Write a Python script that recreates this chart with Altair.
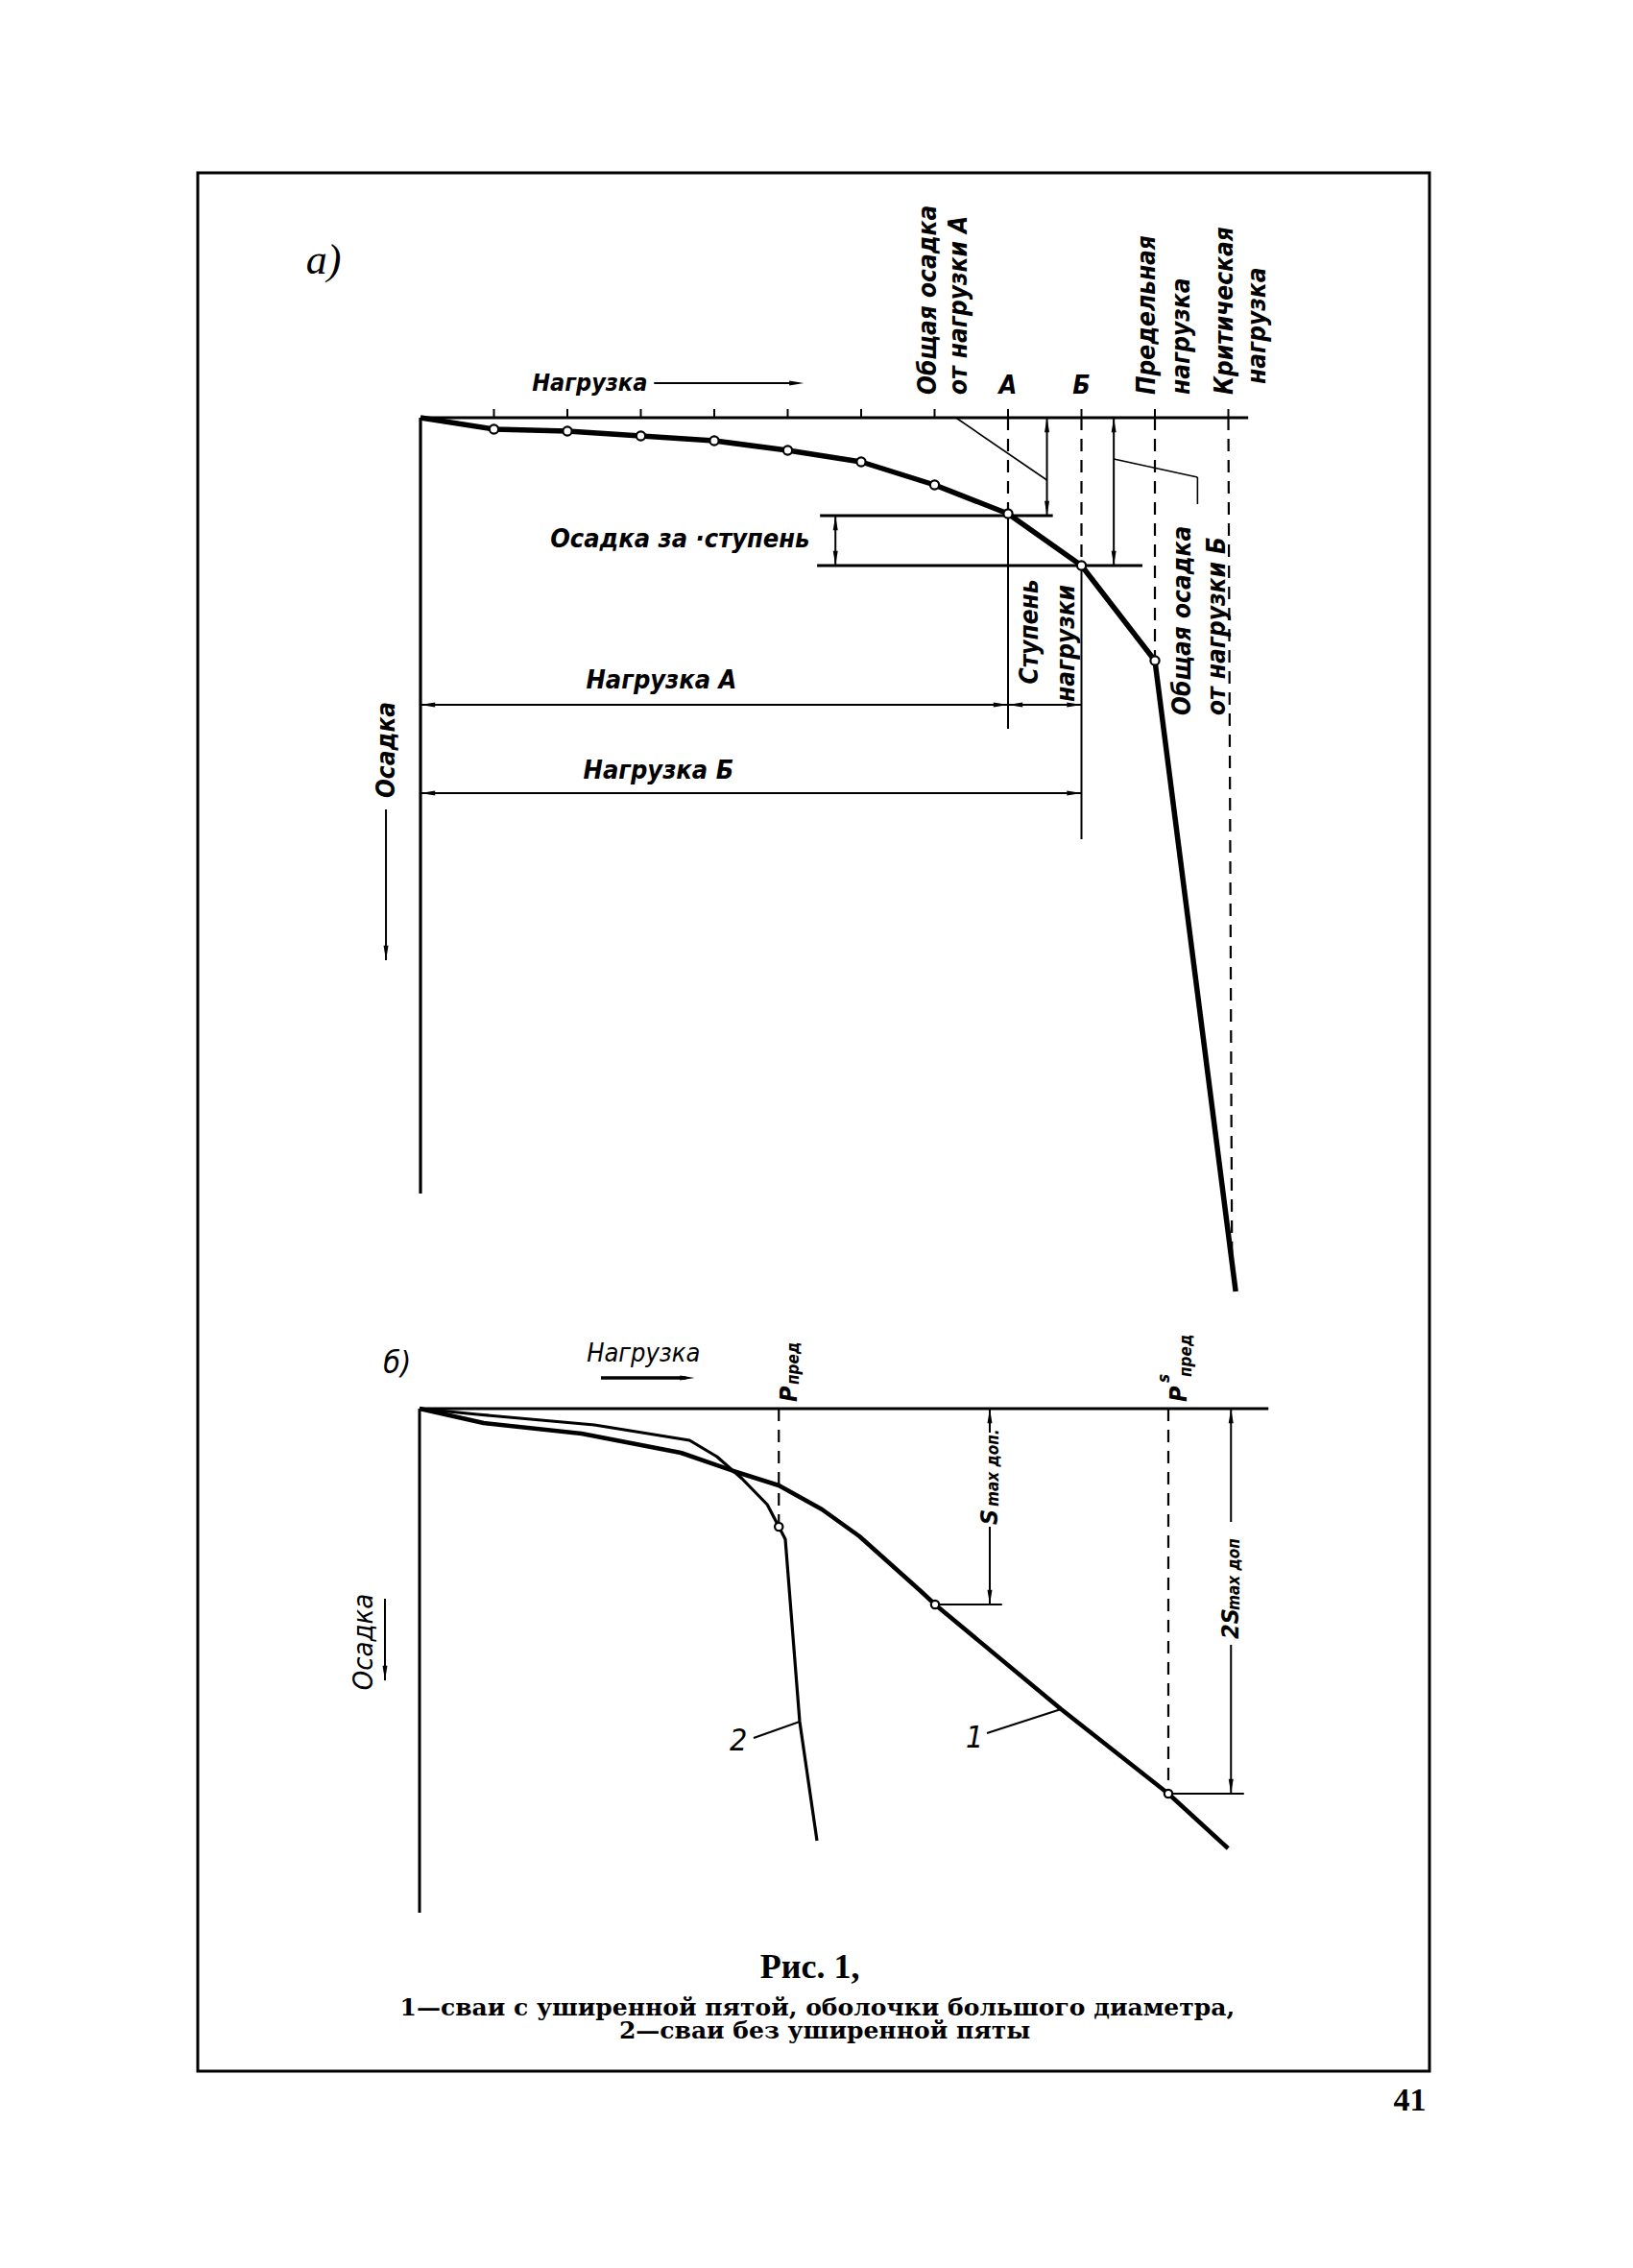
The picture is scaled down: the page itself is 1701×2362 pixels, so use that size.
import altair as alt
import pandas as pd

# ---------------- DATA ----------------
# Panel a) : load (tick steps) vs settlement (arbitrary units, downward)
a_curve_load = [0, 1, 2, 3, 4, 5, 6, 7, 8, 9, 10, 11.1]
a_curve_settle = [0, 1.2, 1.4, 1.9, 2.4, 3.4, 4.6, 7.0, 10.0, 15.4, 25.3, 91.0]
a_marker_load = [1, 2, 3, 4, 5, 6, 7, 8, 9, 10]
a_marker_settle = [1.2, 1.4, 1.9, 2.4, 3.4, 4.6, 7.0, 10.0, 15.4, 25.3]
a_tick_load = [1, 2, 3, 4, 5, 6, 7, 8, 9, 10, 11]

a_axis_x1 = [0, 0]
a_axis_y1 = [0, 0]
a_axis_x2 = [11.27, 0]
a_axis_y2 = [0, 80.8]

a_dash_x1 = [8, 9, 10, 11]
a_dash_y1 = [0, 0, 0, 0]
a_dash_x2 = [8, 9, 10, 11.05]
a_dash_y2 = [10.0, 15.4, 25.3, 88.5]

a_dim_x1 = [8.53, 5.65, 8.0, 9.0, 9.44, 0.0, 0.0, 3.18, -0.47]
a_dim_y1 = [0.0, 10.2, 10.0, 15.4, 0.0, 29.9, 39.1, -3.6, 40.8]
a_dim_x2 = [8.53, 5.65, 8.0, 9.0, 9.44, 9.0, 9.0, 5.1, -0.47]
a_dim_y2 = [10.2, 15.4, 32.4, 43.9, 15.4, 29.9, 39.1, -3.6, 56.5]

a_level_x1 = [5.44, 5.40]
a_level_y1 = [10.2, 15.4]
a_level_x2 = [8.61, 9.83]
a_level_y2 = [10.2, 15.4]

a_leader_x1 = [7.29, 9.44, 10.58]
a_leader_y1 = [0.0, 4.3, 6.2]
a_leader_x2 = [8.53, 10.58, 10.58]
a_leader_y2 = [6.5, 6.2, 9.0]

a_head_x = [5.65, 5.65, 8.53, 8.53, 9.44, 9.44, 0, 8, 8, 9, 0, 9, 5.22, -0.47]
a_head_y = [10.2, 15.4, 0, 10.2, 0, 15.4, 29.9, 29.9, 29.9, 29.9, 39.1, 39.1, -3.6, 56.5]
a_head_dir = [0, 180, 0, 180, 0, 180, 270, 90, 270, 90, 270, 90, 90, 180]

a_hc_text = ["Нагрузка А", "Нагрузка Б", "А", "Б"]
a_hc_x = [3.28, 3.24, 8.0, 9.0]
a_hc_y = [27.4, 36.8, -3.3, -3.3]

a_rot_text = ["Общая осадка", "от нагрузки А", "Предельная", "нагрузка",
              "Критическая", "нагрузка", "Общая осадка", "от нагрузки Б"]
a_rot_x = [6.92, 7.33, 9.9, 10.37, 10.95, 11.4, 10.38, 10.85]
a_rot_y = [-2.4, -2.4, -2.4, -2.4, -2.4, -3.5, 31.0, 31.0]

a_rotc_text = ["Ступень", "нагрузки", "Осадка"]
a_rotc_x = [8.3, 8.8, -0.46]
a_rotc_y = [22.3, 23.5, 34.6]

# Panel б)
b_curve1_load = [0, 0.89, 2.25, 3.63, 4.4, 4.99, 5.59, 6.11, 6.96, 7.16, 8.91, 10.4, 11.23]
b_curve1_settle = [0, 1.5, 2.6, 4.6, 6.6, 8.0, 10.5, 13.3, 19.0, 20.4, 31.3, 40.1, 45.8]
b_curve2_load = [0, 0.8, 2.43, 3.75, 4.13, 4.48, 4.83, 4.99, 5.08, 5.28, 5.52]
b_curve2_settle = [0, 0.6, 1.7, 3.3, 5.0, 7.3, 10.0, 12.3, 13.6, 32.6, 45.0]
b_marker_load = [7.16, 10.4, 4.99]
b_marker_settle = [20.4, 40.1, 12.3]

b_axis_x1 = [0, 0]
b_axis_y1 = [0, 0]
b_axis_x2 = [11.79, 0]
b_axis_y2 = [0, 52.5]

b_dash_x1 = [4.99, 10.4]
b_dash_y1 = [0, 0]
b_dash_x2 = [4.99, 10.4]
b_dash_y2 = [12.3, 40.1]

b_dim_x1 = [7.92, 7.92, 7.16, 11.27, 11.27, 10.4, 7.88, 4.64, -0.48]
b_dim_y1 = [0, 12.3, 20.4, 0, 24.6, 40.1, 33.8, 34.3, 19.8]
b_dim_x2 = [7.92, 7.92, 8.09, 11.27, 11.27, 11.45, 8.91, 5.28, -0.48]
b_dim_y2 = [2.5, 20.4, 20.4, 11.8, 40.1, 40.1, 31.3, 32.6, 28.3]

b_loadarrow_x1 = [2.52]
b_loadarrow_y1 = [-3.2]
b_loadarrow_x2 = [3.7]
b_loadarrow_y2 = [-3.2]

b_head_x = [7.92, 7.92, 11.27, 11.27, 3.82, -0.48]
b_head_y = [0, 20.4, 0, 40.1, -3.2, 28.3]
b_head_dir = [0, 180, 0, 180, 90, 180]

b_label_text = ["б)", "1", "2"]
b_label_x = [-0.31, 7.71, 4.43]
b_label_y = [-4.7, 34.3, 34.6]

b_sym_big_text = ["Р", "Р", "S", "2S"]
b_sym_big_x = [5.13, 10.55, 7.92, 11.27]
b_sym_big_y = [-0.7, -0.7, 12.1, 24.0]
b_sym_small_text = ["пред", "s", "пред", "max доп.", "max доп"]
b_sym_small_x = [5.2, 10.35, 10.65, 7.97, 11.32]
b_sym_small_y = [-2.5, -2.7, -3.3, 10.2, 21.0]

# Caption (fractions of the framed page)
cap_text = ["Рис. 1,"]
cap_x = [0.497]
cap_y = [0.9454]
legend_text = ["1—сваи с уширенной пятой, оболочки большого диаметра,",
               "2—сваи без уширенной пяты"]
legend_x = [0.503, 0.509]
legend_y = [0.9666, 0.979]
page_text = ["41"]
page_x = [0.984]
page_y = [1.0157]

# ---------------- LAYOUT ----------------
W, H = 1283, 1977
GOST = "DejaVu Sans Condensed, Liberation Sans Narrow, Roboto Condensed, DejaVu Sans"
SERIF = "Liberation Serif, DejaVu Serif"
ARROW = "M0,0L0.33,2L-0.33,2Z"


def lin_scale(origin_px, unit_px, extent, reverse=False):
    lo = -origin_px / unit_px
    hi = (extent - origin_px) / unit_px
    return alt.Scale(domain=[lo, hi], nice=False, zero=False, reverse=reverse)


XA, YA = lin_scale(232, 76.5, W), lin_scale(255, 10, H, True)
XB, YB = lin_scale(231, 75, W), lin_scale(1287, 10, H, True)
XP = alt.Scale(domain=[0, 1], nice=False, zero=False)
YP = alt.Scale(domain=[0, 1], nice=False, zero=False, reverse=True)


def segs(x1, y1, x2, y2, sx, sy, width, dash=None):
    df = pd.DataFrame({"x1": x1, "y1": y1, "x2": x2, "y2": y2})
    kw = dict(color="black", strokeWidth=width, strokeCap="butt")
    if dash:
        kw["strokeDash"] = dash
    return alt.Chart(df).mark_rule(**kw).encode(
        x=alt.X("x1:Q", scale=sx, axis=None),
        y=alt.Y("y1:Q", scale=sy, axis=None),
        x2="x2:Q", y2="y2:Q")


def curve(xs, ys, sx, sy, width):
    df = pd.DataFrame({"x": xs, "y": ys, "i": list(range(len(xs)))})
    return alt.Chart(df).mark_line(color="black", strokeWidth=width, strokeJoin="round").encode(
        x=alt.X("x:Q", scale=sx, axis=None),
        y=alt.Y("y:Q", scale=sy, axis=None),
        order="i:Q")


def markers(xs, ys, sx, sy, size):
    df = pd.DataFrame({"x": xs, "y": ys})
    return alt.Chart(df).mark_point(shape="circle", filled=True, fill="white", stroke="black",
                                     strokeWidth=2.2, size=size, opacity=1).encode(
        x=alt.X("x:Q", scale=sx, axis=None),
        y=alt.Y("y:Q", scale=sy, axis=None))


def heads(xs, ys, dirs, sx, sy, size=230):
    df = pd.DataFrame({"x": xs, "y": ys, "a": dirs})
    return alt.Chart(df).mark_point(shape=ARROW, filled=True, color="black", size=size,
                                     strokeWidth=0, opacity=1).encode(
        x=alt.X("x:Q", scale=sx, axis=None),
        y=alt.Y("y:Q", scale=sy, axis=None),
        angle=alt.Angle("a:Q", scale=None))


def texts(tt, xs, ys, sx, sy, **mk):
    df = pd.DataFrame({"x": xs, "y": ys, "t": tt})
    return alt.Chart(df).mark_text(color="black", **mk).encode(
        x=alt.X("x:Q", scale=sx, axis=None),
        y=alt.Y("y:Q", scale=sy, axis=None),
        text="t:N")


ticks_y0 = [0] * len(a_tick_load)
ticks_y1 = [-0.9] * len(a_tick_load)

layers = [
    # ---- panel a ----
    segs(a_axis_x1, a_axis_y1, a_axis_x2, a_axis_y2, XA, YA, 3.2),
    segs(a_tick_load, ticks_y0, a_tick_load, ticks_y1, XA, YA, 2),
    segs(a_dash_x1, a_dash_y1, a_dash_x2, a_dash_y2, XA, YA, 2.2, [13, 9]),
    segs(a_dim_x1, a_dim_y1, a_dim_x2, a_dim_y2, XA, YA, 2),
    segs(a_level_x1, a_level_y1, a_level_x2, a_level_y2, XA, YA, 3),
    segs(a_leader_x1, a_leader_y1, a_leader_x2, a_leader_y2, XA, YA, 1.6),
    curve(a_curve_load, a_curve_settle, XA, YA, 5.5),
    markers(a_marker_load, a_marker_settle, XA, YA, 85),
    heads(a_head_x, a_head_y, a_head_dir, XA, YA),
    texts(["а)"], [-1.32], [-16.3], XA, YA, font=SERIF, fontSize=44, fontStyle="italic",
          align="center", baseline="middle"),
    texts(["Нагрузка"], [1.52], [-3.6], XA, YA, font=GOST, fontSize=25, fontStyle="italic",
          fontWeight="bold", align="left", baseline="middle"),
    texts(a_hc_text, a_hc_x, a_hc_y, XA, YA, font=GOST, fontSize=27, fontStyle="italic",
          fontWeight="bold", align="center", baseline="middle"),
    texts(["Осадка за ·ступень"], [5.30], [12.7], XA, YA, font=GOST, fontSize=27,
          fontStyle="italic", fontWeight="bold", align="right", baseline="middle"),
    texts(a_rot_text, a_rot_x, a_rot_y, XA, YA, font=GOST, fontSize=26, fontStyle="italic",
          fontWeight="bold", align="left", baseline="middle", angle=270),
    texts(a_rotc_text, a_rotc_x, a_rotc_y, XA, YA, font=GOST, fontSize=26, fontStyle="italic",
          fontWeight="bold", align="center", baseline="middle", angle=270),
    # ---- panel б ----
    segs(b_axis_x1, b_axis_y1, b_axis_x2, b_axis_y2, XB, YB, 3),
    segs(b_dash_x1, b_dash_y1, b_dash_x2, b_dash_y2, XB, YB, 2.2, [13, 9]),
    segs(b_dim_x1, b_dim_y1, b_dim_x2, b_dim_y2, XB, YB, 2),
    segs(b_loadarrow_x1, b_loadarrow_y1, b_loadarrow_x2, b_loadarrow_y2, XB, YB, 3.5),
    curve(b_curve2_load, b_curve2_settle, XB, YB, 3.2),
    curve(b_curve1_load, b_curve1_settle, XB, YB, 4.5),
    markers(b_marker_load, b_marker_settle, XB, YB, 70),
    heads(b_head_x, b_head_y, b_head_dir, XB, YB),
    texts(b_label_text, b_label_x, b_label_y, XB, YB, font=GOST, fontSize=32, fontStyle="italic",
          align="center", baseline="middle"),
    texts(["Нагрузка"], [3.11], [-5.7], XB, YB, font=GOST, fontSize=27, fontStyle="italic",
          align="center", baseline="middle"),
    texts(["Осадка"], [-0.77], [24.3], XB, YB, font=GOST, fontSize=29, fontStyle="italic",
          align="center", baseline="middle", angle=270),
    texts(b_sym_big_text, b_sym_big_x, b_sym_big_y, XB, YB, font=GOST, fontSize=25,
          fontStyle="italic", fontWeight="bold", align="left", baseline="middle", angle=270),
    texts(b_sym_small_text, b_sym_small_x, b_sym_small_y, XB, YB, font=GOST, fontSize=17,
          fontStyle="italic", fontWeight="bold", align="left", baseline="middle", angle=270),
    # ---- caption ----
    texts(cap_text, cap_x, cap_y, XP, YP, font=SERIF, fontSize=36, fontWeight="bold",
          align="center", baseline="middle"),
    texts(legend_text, legend_x, legend_y, XP, YP, font="DejaVu Serif, Liberation Serif",
          fontSize=25, fontWeight="bold", align="center", baseline="middle"),
    texts(page_text, page_x, page_y, XP, YP, font=SERIF, fontSize=34, fontWeight="bold",
          align="center", baseline="middle"),
]

chart = alt.layer(*layers).resolve_scale(x="independent", y="independent").properties(
    width=W, height=H,
    padding={"left": 198, "top": 172, "right": 204, "bottom": 197},
    autosize=alt.AutoSizeParams(type="none"),
    background="white",
).configure_view(stroke="black", strokeWidth=3)

chart.save("out.html", embed_options={"renderer": "svg", "actions": False})
